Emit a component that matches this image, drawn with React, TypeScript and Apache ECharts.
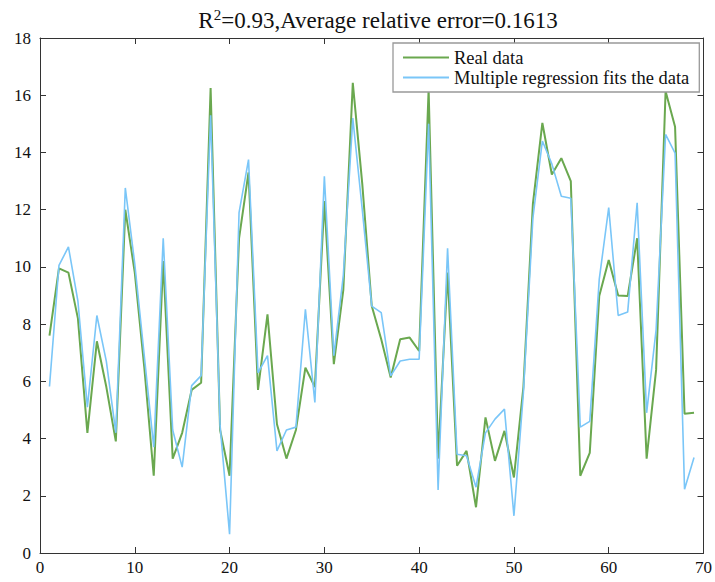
import React, { useEffect, useRef } from "react";
import * as echarts from "echarts";

const xValues: number[] = Array.from({ length: 69 }, (_, i) => i + 1);

const realData: number[] = [
  7.6, 9.95, 9.8, 8.2, 4.2, 7.4, 5.8, 3.9, 12.0, 9.8,
  6.5, 2.7, 10.2, 3.3, 4.2, 5.7, 5.95, 16.25, 4.3, 2.7,
  11.0, 13.3, 5.7, 8.34, 4.5, 3.3, 4.3, 6.48, 5.8, 12.3,
  6.6, 9.2, 16.43, 12.9, 8.63, 7.47, 6.13, 7.47, 7.53, 7.06,
  16.2, 3.3, 9.8, 3.05, 3.57, 1.6, 4.74, 3.22, 4.27, 2.64,
  5.8, 12.2, 15.03, 13.23, 13.8, 13.0, 2.7, 3.5, 8.98, 10.24,
  9.0, 8.98, 11.0, 3.3, 6.4, 16.14, 14.9, 4.87, 4.9,
];

const fitData: number[] = [
  5.82, 10.05, 10.7, 8.8, 5.1, 8.3, 6.7, 4.2, 12.76, 10.1,
  6.9, 3.7, 11.0, 4.3, 3.0, 5.85, 6.2, 15.3, 4.45, 0.66,
  11.9, 13.75, 6.3, 6.9, 3.57, 4.3, 4.4, 8.52, 5.26, 13.17,
  6.9, 9.7, 15.2, 12.0, 8.63, 8.4, 6.19, 6.71, 6.77, 6.77,
  15.0, 2.2, 10.65, 3.45, 3.4, 2.3, 4.2, 4.68, 5.03, 1.3,
  5.6, 11.7, 14.4, 13.6, 12.47, 12.4, 4.4, 4.6, 9.56, 12.07,
  8.3, 8.42, 12.24, 4.9, 7.8, 14.63, 13.98, 2.23, 3.34,
];

const xTicks: number[] = [0, 10, 20, 30, 40, 50, 60, 70];
const yTicks: number[] = [0, 2, 4, 6, 8, 10, 12, 14, 16, 18];

const seriesNames: string[] = ["Real data", "Multiple regression fits the data"];

export default function App() {
  const ref = useRef<HTMLDivElement>(null);

  useEffect(() => {
    if (!ref.current) return;
    const chart = echarts.init(ref.current, null, { renderer: "svg" });
    const font = "Liberation Serif";
    const axisCommon = {
      axisLine: { show: true, onZero: false, lineStyle: { color: "#333", width: 1 } },
      axisTick: { show: true, inside: true, length: 6, lineStyle: { color: "#333" } },
      splitLine: { show: false },
    };
    chart.setOption({
      animation: false,
      backgroundColor: "#fff",
      title: {
        text: "R{sup|2}=0.93,Average relative error=0.1613",
        left: 373,
        textAlign: "center",
        top: 2,
        textStyle: {
          fontFamily: font,
          fontSize: 23,
          fontWeight: "normal",
          color: "#111",
          rich: {
            sup: { fontSize: 15, fontFamily: font, color: "#111", verticalAlign: "top", padding: [0, 0, 12, 0] },
          },
        },
      },
      legend: {
        orient: "vertical",
        left: 393,
        top: 43,
        itemWidth: 46,
        itemHeight: 2,
        itemGap: 1,
        padding: [5, 10, 5, 10],
        borderColor: "#999",
        borderWidth: 1.3,
        backgroundColor: "#fff",
        icon: "rect",
        textStyle: { fontFamily: font, fontSize: 18.5, color: "#111", padding: [0, 0, 0, 0] },
        data: seriesNames,
      },
      grid: { left: 40, right: 9, top: 38, bottom: 29, containLabel: false },
      xAxis: [
        {
          type: "value",
          min: 0,
          max: 70,
          interval: 10,
          position: "bottom",
          ...axisCommon,
          axisLabel: {
            fontFamily: font,
            fontSize: 17,
            color: "#111",
            margin: 6,
            customValues: xTicks,
          },
        },
        {
          type: "value",
          min: 0,
          max: 70,
          interval: 10,
          position: "top",
          ...axisCommon,
          axisLabel: { show: false },
        },
      ],
      yAxis: [
        {
          type: "value",
          min: 0,
          max: 18,
          interval: 2,
          position: "left",
          ...axisCommon,
          axisLabel: {
            fontFamily: font,
            fontSize: 17,
            color: "#111",
            margin: 9,
            customValues: yTicks,
          },
        },
        {
          type: "value",
          min: 0,
          max: 18,
          interval: 2,
          position: "right",
          ...axisCommon,
          axisLabel: { show: false },
        },
      ],
      series: [
        {
          name: seriesNames[0],
          type: "line",
          data: xValues.map((x, i) => [x, realData[i]]),
          showSymbol: false,
          symbol: "none",
          lineStyle: { color: "#6aa84f", width: 2 },
          itemStyle: { color: "#6aa84f" },
          z: 2,
        },
        {
          name: seriesNames[1],
          type: "line",
          data: xValues.map((x, i) => [x, fitData[i]]),
          showSymbol: false,
          symbol: "none",
          lineStyle: { color: "#7ac6f8", width: 1.6 },
          itemStyle: { color: "#7ac6f8" },
          z: 3,
        },
      ],
    });
    return () => chart.dispose();
  }, []);

  return <div ref={ref} style={{ width: 715, height: 582, position: "absolute", left: 0, top: 0 }} />;
}
